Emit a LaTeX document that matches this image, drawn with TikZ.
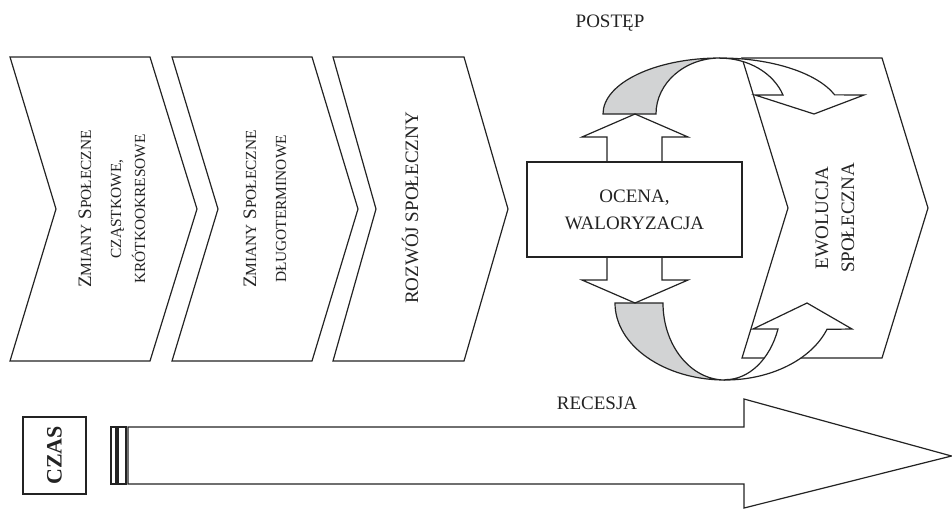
\documentclass[tikz,border=0pt]{standalone}
\usepackage{fontspec}
\setmainfont{Liberation Serif}
\usepackage{tikz}
\definecolor{inkgray}{RGB}{35, 35, 35}
\definecolor{ribbongray}{RGB}{210, 211, 212}
\newcommand{\fsc}[1]{{\fontsize{7.7}{12}\selectfont #1}}

\begin{document}
\begin{tikzpicture}[x=0.5pt, y=-0.5pt, line join=miter]
    \tikzstyle{outline} = [draw=inkgray, line width=0.6pt, fill=white]
    \tikzstyle{ribbon} = [draw=inkgray, line width=0.6pt, fill=ribbongray]
    \tikzstyle{txt} = [font=\fontsize{9.5}{13}\selectfont, text=inkgray, align=center, inner sep=0pt]

    \useasboundingbox (0,0) rectangle (952,509);

    % chevrons
    \foreach \l/\r/\t/\n in {10/150/197/56, 172/312/358/218, 333/464/508/376}
        \draw[outline] (\l,57) -- (\r,57) -- (\t,209) -- (\r,361) -- (\l,361) -- (\n,209) -- cycle;
    \node (zmiany1) [txt, rotate=90, font=\fontsize{9.5}{12}\selectfont] at (112,209) {Z\fsc{MIANY} S\fsc{POŁECZNE}\\[3pt]\fsc{CZĄSTKOWE,}\\\fsc{KRÓTKOOKRESOWE}};
    \node (zmiany2) [txt, rotate=90, font=\fontsize{9.5}{12}\selectfont] at (265,209) {Z\fsc{MIANY} S\fsc{POŁECZNE}\\[3pt]\fsc{DŁUGOTERMINOWE}};
    \node (rozwoj) [txt, rotate=90] at (410,208) {ROZWÓJ SPOŁECZNY};

    % evolution
    \draw[outline] (742,58) -- (882,58) -- (928,208) -- (882,358) -- (742,358) -- (788,208) -- cycle;
    \node (ewolucja) [txt, rotate=90] at (835,218) {EWOLUCJA\\SPOŁECZNA};

    % upper loop
    \draw[ribbon] (603,114) arc[start angle=180, end angle=270, x radius=117, y radius=56]
        arc[start angle=270, end angle=180, x radius=64, y radius=56] -- cycle;
    \draw[outline] (720,58) arc[start angle=270, end angle=340, x radius=122, y radius=56]
        -- (864,95) -- (814,114) -- (755,95) -- (783,95)
        arc[start angle=340, end angle=270, x radius=67, y radius=56] -- cycle;

    % lower loop
    \draw[ribbon] (615,303) arc[start angle=180, end angle=90, x radius=110, y radius=77]
        arc[start angle=90, end angle=180, x radius=62, y radius=77] -- cycle;
    \draw[outline] (725,380) arc[start angle=90, end angle=20, x radius=108.5, y radius=77]
        -- (852,329) -- (807,303) -- (753,329) -- (778,329)
        arc[start angle=20, end angle=90, x radius=56, y radius=77] -- cycle;

    % assessment
    \draw[outline] (607,162) -- (607,137) -- (582,137) -- (635,114) -- (688,137) -- (662,137) -- (662,162);
    \draw[outline] (607,257) -- (607,280) -- (582,280) -- (635,303) -- (688,280) -- (662,280) -- (662,257);
    \node (ocena) [outline, txt, font=\fontsize{9.5}{13.5}\selectfont, minimum width=107.5pt, minimum height=47.5pt] at (634.5,209.5) {OCENA,\\WALORYZACJA};

    \node (postep) [txt] at (610,23) {POSTĘP};
    \node (recesja) [txt] at (597,403) {RECESJA};

    % time axis
    \draw[outline] (128,427) -- (744,427) -- (744,399) -- (951.5,456) -- (744,508) -- (744,484) -- (128,484) -- cycle;
    \draw[outline] (111,427) rectangle (116,484);
    \draw[outline] (118,427) rectangle (126,484);
    \node (czas) [outline, txt, rotate=90, font=\fontsize{11}{13}\bfseries, minimum width=38.5pt, minimum height=31.5pt] at (54.5,455.5) {CZAS};
\end{tikzpicture}
\end{document}
